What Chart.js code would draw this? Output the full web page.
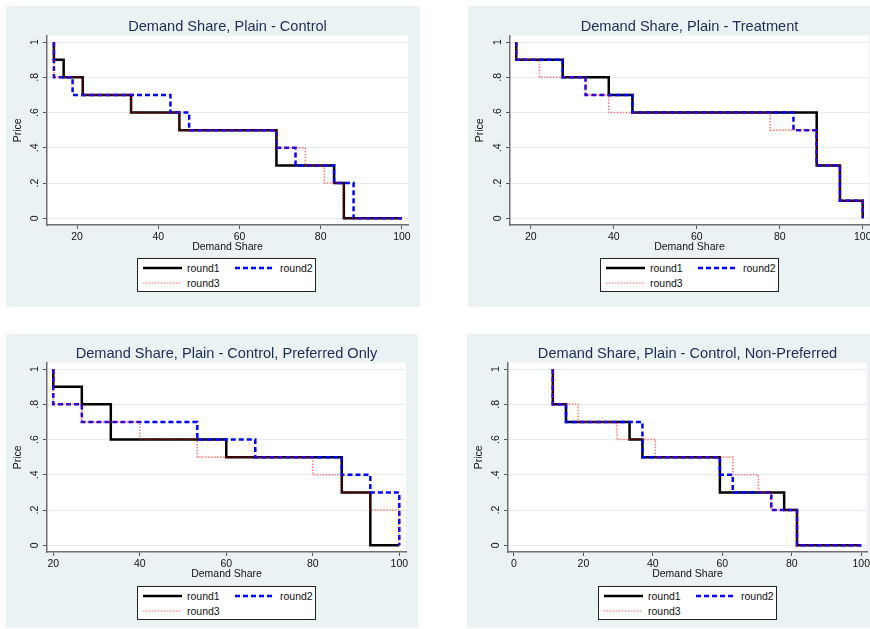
<!DOCTYPE html>
<html>
<head>
<meta charset="utf-8">
<title>Demand Share</title>
<script src="https://cdn.jsdelivr.net/npm/chart.js@4.4.1/dist/chart.umd.min.js"></script>
<style>
  html, body { margin: 0; padding: 0; background: #fff; }
  body { width: 870px; height: 629px; overflow: hidden; position: relative; font-family: "Liberation Sans", Arial, sans-serif; }
  .panel { position: absolute; background: #eaf2f3; overflow: hidden; }
  .panel canvas { position: absolute; left: 0; top: 0; }
  .legend { position: absolute; width: 179px; height: 34px; box-sizing: border-box; border: 1px solid #222; background: #fff; }
  .legend svg { position: absolute; }
  .legend span { position: absolute; font-size: 10.5px; line-height: 12px; color: #111; }
</style>
</head>
<body>
<div class="panel" id="p1"><canvas id="c1"></canvas></div>
<div class="panel" id="p2"><canvas id="c2"></canvas></div>
<div class="panel" id="p3"><canvas id="c3"></canvas></div>
<div class="panel" id="p4"><canvas id="c4"></canvas></div>
<script>
// --- Data ---
const seriesNames = ['round1', 'round2', 'round3'];
const panelTitles = [
    'Demand Share, Plain - Control',
    'Demand Share, Plain - Treatment',
    'Demand Share, Plain - Control, Preferred Only',
    'Demand Share, Plain - Control, Non-Preferred'
];
const xTicks20 = [20, 40, 60, 80, 100];
const xTicks0 = [0, 20, 40, 60, 80, 100];
const yTicks = [0, 0.2, 0.4, 0.6, 0.8, 1];
const yTickLabels = ['0', '.2', '.4', '.6', '.8', '1'];

// Plain - Control
const controlShare1 = [14.3, 14.3, 16.7, 21.4, 33.3, 45.2, 69.1, 83.3, 85.7, 100];
const controlPrice1 = [1, 0.9, 0.8, 0.7, 0.6, 0.5, 0.3, 0.2, 0, 0];
const controlShare2 = [14.3, 14.3, 18.9, 43.0, 47.6, 69.1, 73.8, 83.3, 88.1, 100];
const controlPrice2 = [1, 0.8, 0.7, 0.6, 0.5, 0.4, 0.3, 0.2, 0, 0];
const controlShare3 = [14.3, 14.3, 21.4, 33.3, 45.2, 69.1, 76.2, 80.9, 85.7, 100];
const controlPrice3 = [1, 0.8, 0.7, 0.6, 0.5, 0.4, 0.3, 0.2, 0, 0];

// Plain - Treatment
const treatShare1 = [16.5, 16.5, 27.7, 38.8, 44.5, 88.9, 94.5, 100];
const treatPrice1 = [1, 0.9, 0.8, 0.7, 0.6, 0.3, 0.1, 0];
const treatShare2 = [16.5, 16.5, 27.7, 33.2, 44.5, 83.3, 88.9, 94.5, 100];
const treatPrice2 = [1, 0.9, 0.8, 0.7, 0.6, 0.5, 0.3, 0.1, 0];
const treatShare3 = [16.5, 16.5, 22.1, 33.2, 38.8, 77.7, 88.9, 94.5, 100];
const treatPrice3 = [1, 0.9, 0.8, 0.7, 0.6, 0.5, 0.3, 0.1, 0];

// Plain - Control, Preferred Only
const prefShare1 = [20, 20, 26.6, 33.3, 60, 86.7, 93.3, 100];
const prefPrice1 = [1, 0.9, 0.8, 0.6, 0.5, 0.3, 0, 0];
const prefShare2 = [20, 20, 26.6, 53.3, 66.7, 86.7, 93.3, 100];
const prefPrice2 = [1, 0.8, 0.7, 0.6, 0.5, 0.4, 0.3, 0];
const prefShare3 = [20, 20, 26.6, 40, 53.3, 80, 86.7, 93.3, 100];
const prefPrice3 = [1, 0.8, 0.7, 0.6, 0.5, 0.4, 0.3, 0.2, 0];

// Plain - Control, Non-Preferred
const nonPrefShare1 = [11.2, 11.2, 15, 33.3, 37, 59.3, 77.8, 81.5, 100];
const nonPrefPrice1 = [1, 0.8, 0.7, 0.6, 0.5, 0.3, 0.2, 0, 0];
const nonPrefShare2 = [11.2, 11.2, 15, 37, 59.3, 63, 74.1, 81.5, 100];
const nonPrefPrice2 = [1, 0.8, 0.7, 0.5, 0.4, 0.3, 0.2, 0, 0];
const nonPrefShare3 = [11.2, 11.2, 18.5, 29.6, 40.7, 63, 70.4, 74.1, 81.5, 100];
const nonPrefPrice3 = [1, 0.8, 0.7, 0.6, 0.5, 0.4, 0.3, 0.2, 0, 0];

// --- Styles ---
const FONT = '"Liberation Sans", Arial, sans-serif';
const seriesStyles = [
    { color: '#000000', width: 2.5, dash: [], legendColor: '#000000', legendDash: '' },
    { color: '#0000ff', width: 2.5, dash: [5, 3], legendColor: '#0000ff', legendDash: '5,3' },
    { color: 'rgba(255,0,0,0.5)', width: 1.6, dash: [1.5, 1.5], legendColor: '#ff9a9a', legendDash: '1.5,1.5' }
];

// panel box, y axis width, right padding, title padding, chart height
const panels = [
    { id: 'p1', canvas: 'c1', box: [6, 6, 414, 301], axisW: 41, padR: 12, titlePad: [12, 0], h: 253, legendLeft: 131,
      series: [[controlShare1, controlPrice1], [controlShare2, controlPrice2], [controlShare3, controlPrice3]],
      xMin: 12.6, xMax: 101.5, xTicks: xTicks20 },
    { id: 'p2', canvas: 'c2', box: [468, 6, 420, 301], axisW: 42, padR: 19, titlePad: [12, 0], h: 253, legendLeft: 132,
      series: [[treatShare1, treatPrice1], [treatShare2, treatPrice2], [treatShare3, treatPrice3]],
      xMin: 15.0, xMax: 101.5, xTicks: xTicks20 },
    { id: 'p3', canvas: 'c3', box: [6, 334, 412, 294], axisW: 41, padR: 12, titlePad: [11, 0], h: 252, legendLeft: 131,
      series: [[prefShare1, prefPrice1], [prefShare2, prefPrice2], [prefShare3, prefPrice3]],
      xMin: 18.55, xMax: 101.55, xTicks: xTicks20 },
    { id: 'p4', canvas: 'c4', box: [467, 334, 420, 294], axisW: 41, padR: 20, titlePad: [11, 0], h: 252, legendLeft: 131,
      series: [[nonPrefShare1, nonPrefPrice1], [nonPrefShare2, nonPrefPrice2], [nonPrefShare3, nonPrefPrice3]],
      xMin: -1.7, xMax: 101.65, xTicks: xTicks0 }
];

// --- Plugins ---
const plotBackground = {
    id: 'plotBackground',
    beforeDraw(chart) {
        const a = chart.chartArea;
        chart.ctx.save();
        chart.ctx.fillStyle = '#ffffff';
        chart.ctx.fillRect(a.left, a.top, a.right - a.left, a.bottom - a.top);
        chart.ctx.restore();
    }
};

// Stata style rotated y tick labels
const rotatedYLabels = {
    id: 'rotatedYLabels',
    afterDraw(chart) {
        const ctx = chart.ctx;
        const yScale = chart.scales.y;
        ctx.save();
        ctx.fillStyle = '#111';
        ctx.font = '10.5px ' + FONT;
        ctx.textAlign = 'center';
        ctx.textBaseline = 'middle';
        yTicks.forEach((v, i) => {
            ctx.save();
            ctx.translate(chart.chartArea.left - 12, yScale.getPixelForValue(v));
            ctx.rotate(-Math.PI / 2);
            ctx.fillText(yTickLabels[i], 0, 0);
            ctx.restore();
        });
        ctx.restore();
    }
};

function addLegend(panelEl, left) {
    const box = document.createElement('div');
    box.className = 'legend';
    box.style.left = left + 'px';
    box.style.top = '252px';
    const spots = [[5, 49, 9], [97, 142, 9], [5, 49, 24]];
    seriesNames.forEach((name, i) => {
        const [sx, tx, cy] = spots[i];
        const st = seriesStyles[i];
        const svgNS = 'http://www.w3.org/2000/svg';
        const svg = document.createElementNS(svgNS, 'svg');
        svg.setAttribute('width', 39);
        svg.setAttribute('height', 6);
        svg.style.left = sx + 'px';
        svg.style.top = (cy - 3) + 'px';
        const ln = document.createElementNS(svgNS, 'line');
        ln.setAttribute('x1', 0); ln.setAttribute('y1', 3);
        ln.setAttribute('x2', 39); ln.setAttribute('y2', 3);
        ln.setAttribute('stroke', st.legendColor);
        ln.setAttribute('stroke-width', st.width);
        if (st.legendDash) ln.setAttribute('stroke-dasharray', st.legendDash);
        svg.appendChild(ln);
        box.appendChild(svg);
        const label = document.createElement('span');
        label.textContent = name;
        label.style.left = tx + 'px';
        label.style.top = (cy - 6) + 'px';
        box.appendChild(label);
    });
    panelEl.appendChild(box);
}

function buildPanel(p, title) {
    const panelEl = document.getElementById(p.id);
    panelEl.style.left = p.box[0] + 'px';
    panelEl.style.top = p.box[1] + 'px';
    panelEl.style.width = p.box[2] + 'px';
    panelEl.style.height = p.box[3] + 'px';

    const canvas = document.getElementById(p.canvas);
    canvas.width = p.box[2];
    canvas.height = p.h;
    canvas.style.width = p.box[2] + 'px';
    canvas.style.height = p.h + 'px';

    const datasets = p.series.map((s, i) => ({
        label: seriesNames[i],
        data: s[0].map((x, k) => ({ x: x, y: s[1][k] })),
        borderColor: seriesStyles[i].color,
        borderWidth: seriesStyles[i].width,
        borderDash: seriesStyles[i].dash,
        stepped: true,
        pointRadius: 0,
        fill: false,
        order: 3 - i // round3 on top
    }));

    new Chart(canvas.getContext('2d'), {
        type: 'line',
        data: { datasets: datasets },
        options: {
            responsive: false,
            animation: false,
            events: [],
            layout: { padding: { left: 0, right: p.padR, top: 0, bottom: 0 } },
            scales: {
                x: {
                    type: 'linear',
                    min: p.xMin,
                    max: p.xMax,
                    afterBuildTicks: (scale) => { scale.ticks = p.xTicks.map(v => ({ value: v })); },
                    afterFit: (scale) => { scale.height = 34; },
                    grid: { drawOnChartArea: false, drawTicks: true, tickLength: 4, tickColor: '#555', tickWidth: 1 },
                    border: { display: true, color: '#6f6f6f', width: 1.5 },
                    ticks: { color: '#111', padding: 2, maxRotation: 0, font: { family: FONT, size: 10.5 } },
                    title: { display: true, text: 'Demand Share', color: '#111', padding: { top: 0, bottom: 5.5 }, font: { family: FONT, size: 10.5 } }
                },
                y: {
                    type: 'linear',
                    min: -0.038,
                    max: 1.037,
                    afterBuildTicks: (scale) => { scale.ticks = yTicks.map(v => ({ value: v })); },
                    afterFit: (scale) => { scale.width = p.axisW; },
                    grid: { color: '#e4eef0', lineWidth: 1, drawTicks: true, tickLength: 4, tickColor: '#555', tickWidth: 1 },
                    border: { display: true, color: '#6f6f6f', width: 1.5 },
                    ticks: { display: false },
                    title: { display: true, text: 'Price', color: '#111', padding: { top: 6, bottom: 0 }, font: { family: FONT, size: 10.5 } }
                }
            },
            plugins: {
                legend: { display: false },
                tooltip: { enabled: false },
                title: {
                    display: true,
                    fullSize: false, // centre over the plot region
                    text: title,
                    color: '#1e2b55',
                    padding: { top: p.titlePad[0], bottom: p.titlePad[1] },
                    font: { family: FONT, size: 14.6, weight: 'normal' }
                }
            }
        },
        plugins: [plotBackground, rotatedYLabels]
    });

    addLegend(panelEl, p.legendLeft);
}

panels.forEach((p, i) => buildPanel(p, panelTitles[i]));
</script>
</body>
</html>
